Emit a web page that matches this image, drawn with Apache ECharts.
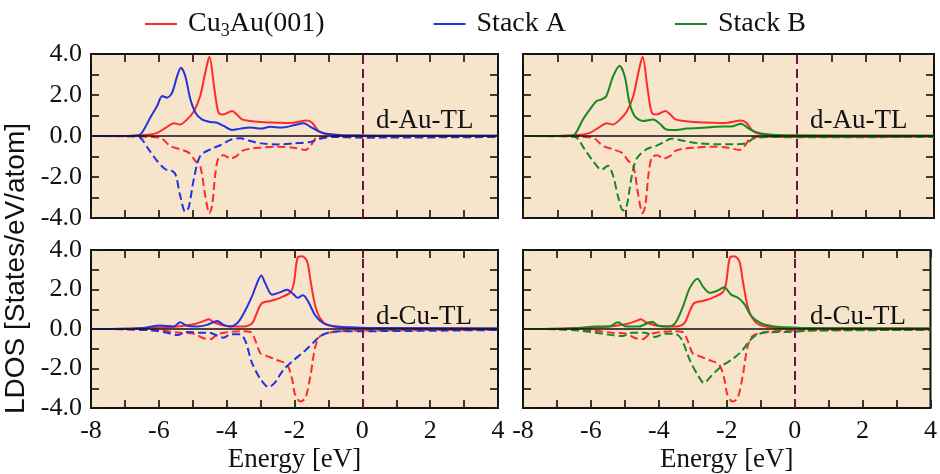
<!DOCTYPE html>
<html>
<head>
<meta charset="utf-8">
<script src="https://cdn.jsdelivr.net/npm/echarts@6/dist/echarts.min.js"></script>
<style>html,body{margin:0;padding:0;background:#fff;}#chart{width:940px;height:474px;}</style>
</head>
<body>
<div id="chart"></div>
<script>
// ---- data: [energy (eV), LDOS] ----
const seriesNames = ['Cu3Au(001)', 'Stack A', 'Stack B'];
const panelLabels = ['d-Au-TL', 'd-Au-TL', 'd-Cu-TL', 'd-Cu-TL'];
const xTicks = [-8, -6, -4, -2, 0, 2, 4];
const yTicks = [-4, -2, 0, 2, 4];

const cu3auAuUp = [[-8,0],[-7,0],[-6.6,0.03],[-6.3,0.06],[-6.05,0.15],[-5.8,0.4],[-5.55,0.62],[-5.38,0.56],[-5.2,0.75],[-4.97,1.2],[-4.78,1.95],[-4.63,3.1],[-4.51,3.86],[-4.36,2.27],[-4.24,1.14],[-4.1,1.05],[-3.84,1.22],[-3.7,1.05],[-3.55,0.81],[-3.3,0.73],[-3.0,0.68],[-2.75,0.66],[-2.5,0.65],[-2.2,0.63],[-2.02,0.65],[-1.63,0.76],[-1.48,0.65],[-1.29,0.24],[-1.04,0.08],[-0.55,0.03],[0,0.02],[1,0.01],[4,0.01]];
const cu3auAuDn = [[-8,0],[-6.6,-0.02],[-6.3,-0.04],[-5.96,-0.08],[-5.66,-0.49],[-5.37,-0.65],[-5.12,-0.81],[-4.92,-1.22],[-4.78,-1.46],[-4.63,-2.92],[-4.51,-3.77],[-4.43,-3.4],[-4.33,-1.79],[-4.24,-1.06],[-4.09,-0.94],[-3.89,-1.1],[-3.7,-0.97],[-3.55,-0.73],[-3.3,-0.62],[-3.0,-0.57],[-2.5,-0.52],[-2.02,-0.57],[-1.68,-0.68],[-1.53,-0.49],[-1.34,-0.08],[-1.0,-0.04],[0,-0.05],[4,-0.04]];
const stackAAuUp = [[-8,0],[-7,0],[-6.64,0.02],[-6.5,0.16],[-6.25,0.9],[-6.05,1.46],[-5.9,1.95],[-5.76,1.87],[-5.61,2.11],[-5.46,2.92],[-5.35,3.33],[-5.22,2.92],[-5.07,1.79],[-4.92,1.14],[-4.73,0.81],[-4.48,0.68],[-4.28,0.65],[-4.09,0.49],[-3.84,0.29],[-3.6,0.36],[-3.3,0.41],[-3.0,0.36],[-2.71,0.45],[-2.4,0.41],[-2.02,0.52],[-1.73,0.62],[-1.53,0.45],[-1.24,0.19],[-0.94,0.08],[-0.55,0.03],[0,0.02],[4,0.01]];
const stackAAuDn = [[-8,0],[-6.8,-0.01],[-6.55,-0.08],[-6.3,-0.65],[-6.05,-1.22],[-5.81,-1.62],[-5.66,-1.66],[-5.51,-1.87],[-5.37,-2.92],[-5.22,-3.7],[-5.12,-3.49],[-4.97,-2.11],[-4.78,-0.97],[-4.48,-0.65],[-4.19,-0.45],[-3.89,-0.19],[-3.6,-0.11],[-3.3,-0.24],[-3.0,-0.36],[-2.5,-0.41],[-2.02,-0.36],[-1.53,-0.29],[-1.24,-0.13],[-0.84,-0.05],[0,-0.08],[4,-0.05]];
const stackBAuUp = [[-8,0],[-6.7,0.01],[-6.49,0.08],[-6.25,0.81],[-6.05,1.29],[-5.86,1.7],[-5.71,1.78],[-5.57,1.94],[-5.37,2.91],[-5.18,3.43],[-5.03,2.91],[-4.89,1.62],[-4.74,0.97],[-4.5,0.73],[-4.2,0.81],[-4.01,0.61],[-3.82,0.32],[-3.52,0.29],[-3.23,0.36],[-2.84,0.39],[-2.36,0.45],[-1.87,0.48],[-1.63,0.6],[-1.44,0.4],[-1.19,0.19],[-0.9,0.08],[-0.4,0.03],[0,0.02],[4,0.01]];
const stackBAuDn = [[-8,0],[-6.7,-0.01],[-6.44,-0.08],[-6.2,-0.65],[-5.96,-1.21],[-5.71,-1.65],[-5.52,-1.45],[-5.37,-1.94],[-5.23,-2.91],[-5.08,-3.63],[-4.98,-3.47],[-4.84,-2.1],[-4.69,-1.13],[-4.4,-0.65],[-4.11,-0.48],[-3.91,-0.32],[-3.67,-0.13],[-3.42,-0.19],[-3.13,-0.29],[-2.84,-0.36],[-2.36,-0.4],[-1.87,-0.4],[-1.48,-0.36],[-1.28,-0.13],[-0.9,-0.05],[0,-0.06],[4,-0.05]];

const cu3auCuUp = [[-8,0],[-7,0.01],[-6.45,0.05],[-5.96,0.08],[-5.46,0.13],[-4.97,0.24],[-4.68,0.4],[-4.53,0.5],[-4.38,0.34],[-4.09,0.18],[-3.79,0.13],[-3.5,0.13],[-3.25,0.29],[-3.1,0.86],[-2.96,1.31],[-2.71,1.42],[-2.42,1.58],[-2.12,1.86],[-2.02,2.31],[-1.91,3.6],[-1.78,3.68],[-1.63,3.44],[-1.53,2.47],[-1.39,1.18],[-1.24,0.53],[-1.04,0.21],[-0.65,0.08],[0,0.05],[4,0.02]];
const cu3auCuDn = [[-8,0],[-7,-0.01],[-6.45,-0.05],[-5.96,-0.08],[-5.37,-0.19],[-4.97,-0.24],[-4.68,-0.47],[-4.48,-0.52],[-4.28,-0.27],[-3.99,-0.16],[-3.6,-0.11],[-3.3,-0.15],[-3.15,-0.6],[-3.0,-1.24],[-2.81,-1.37],[-2.52,-1.57],[-2.22,-1.81],[-2.07,-2.54],[-1.98,-3.34],[-1.83,-3.67],[-1.68,-3.5],[-1.53,-2.37],[-1.39,-0.92],[-1.24,-0.36],[-0.84,-0.15],[0,-0.08],[4,-0.04]];
const stackACuUp = [[-8,0],[-7,0.01],[-6.45,0.05],[-5.96,0.18],[-5.56,0.13],[-5.37,0.34],[-5.17,0.16],[-4.87,0.13],[-4.58,0.21],[-4.28,0.4],[-4.09,0.21],[-3.89,0.13],[-3.69,0.29],[-3.5,0.78],[-3.25,1.66],[-3.1,2.34],[-2.98,2.71],[-2.86,2.31],[-2.66,1.74],[-2.47,1.83],[-2.22,1.99],[-2.02,1.74],[-1.91,1.58],[-1.75,1.71],[-1.58,1.34],[-1.39,0.69],[-1.14,0.29],[-0.75,0.13],[-0.2,0.08],[0.5,0.05],[4,0.02]];
const stackACuDn = [[-8,0],[-7,-0.01],[-6.15,-0.08],[-5.76,-0.19],[-5.46,-0.31],[-5.17,-0.15],[-4.78,-0.19],[-4.53,-0.19],[-4.09,-0.44],[-3.89,-0.27],[-3.6,-0.27],[-3.45,-0.6],[-3.25,-1.73],[-3.0,-2.54],[-2.76,-2.94],[-2.57,-2.7],[-2.32,-2.05],[-2.02,-1.57],[-1.73,-1.16],[-1.44,-0.68],[-1.24,-0.36],[-0.94,-0.16],[-0.55,-0.11],[0,-0.11],[4,-0.05]];
const stackBCuUp = [[-8,0],[-7,0.01],[-6.35,0.05],[-5.86,0.13],[-5.47,0.13],[-5.2,0.34],[-4.98,0.13],[-4.59,0.13],[-4.2,0.37],[-4.01,0.16],[-3.72,0.13],[-3.52,0.29],[-3.28,1.18],[-3.09,2.07],[-2.86,2.55],[-2.7,2.15],[-2.5,1.83],[-2.26,1.95],[-2.08,2.12],[-1.87,1.74],[-1.67,1.58],[-1.48,1.26],[-1.28,0.66],[-0.99,0.29],[-0.6,0.13],[-0.1,0.08],[0.5,0.05],[4,0.02]];
const stackBCuDn = [[-8,0],[-7,-0.01],[-6.35,-0.08],[-5.86,-0.19],[-5.37,-0.31],[-5.08,-0.36],[-4.79,-0.19],[-4.4,-0.19],[-4.11,-0.4],[-3.82,-0.24],[-3.52,-0.24],[-3.33,-0.52],[-3.09,-1.57],[-2.84,-2.37],[-2.67,-2.73],[-2.45,-2.37],[-2.16,-1.89],[-1.87,-1.57],[-1.58,-1.16],[-1.33,-0.6],[-1.09,-0.27],[-0.7,-0.16],[-0.1,-0.15],[0.5,-0.08],[4,-0.05]];

// ---- styling / layout ----
const RED = '#ff2a2a', BLUE = '#2233dd', GREEN = '#17891f';
const BG = '#f7e5cb';
const SERIF = 'Liberation Serif';
const SERIF_FONT = '"Liberation Serif", "Times New Roman", serif';
const grids = [
  {left: 91, top: 54, width: 407, height: 164},
  {left: 523, top: 54, width: 411, height: 164},
  {left: 91, top: 250, width: 407, height: 165},
  {left: 523, top: 250, width: 411, height: 165}
];
const panels = [
  [{name: seriesNames[0], color: RED, up: cu3auAuUp, dn: cu3auAuDn}, {name: seriesNames[1], color: BLUE, up: stackAAuUp, dn: stackAAuDn}],
  [{name: seriesNames[0], color: RED, up: cu3auAuUp, dn: cu3auAuDn}, {name: seriesNames[2], color: GREEN, up: stackBAuUp, dn: stackBAuDn}],
  [{name: seriesNames[0], color: RED, up: cu3auCuUp, dn: cu3auCuDn}, {name: seriesNames[1], color: BLUE, up: stackACuUp, dn: stackACuDn}],
  [{name: seriesNames[0], color: RED, up: cu3auCuUp, dn: cu3auCuDn}, {name: seriesNames[2], color: GREEN, up: stackBCuUp, dn: stackBCuDn}]
];

const tick = {show: true, inside: true, length: 8, lineStyle: {color: '#1a1a1a', width: 1.7}};
const xAxes = [], yAxes = [], series = [], graphics = [];
grids.forEach((g, i) => {
  const bottomRow = i >= 2, leftCol = i % 2 === 0;
  xAxes.push({
    type: 'value', gridIndex: i, min: -8, max: 4, interval: 1, position: 'bottom',
    axisLine: {show: false, onZero: false}, axisTick: tick, splitLine: {show: false},
    axisLabel: {show: bottomRow, margin: 10, fontFamily: SERIF, fontSize: 26, color: '#111',
      formatter: v => xTicks.includes(v) ? String(v) : ''},
    name: bottomRow ? 'Energy [eV]' : '', nameLocation: 'middle', nameGap: 38,
    nameTextStyle: {color: '#111', fontFamily: SERIF, fontSize: 27}
  });
  xAxes.push({
    type: 'value', gridIndex: i, min: -8, max: 4, interval: 1, position: 'top',
    axisLine: {show: false, onZero: false}, axisTick: tick, splitLine: {show: false}, axisLabel: {show: false}
  });
  yAxes.push({
    type: 'value', gridIndex: i, min: -4, max: 4, interval: 1, position: 'left',
    axisLine: {show: false, onZero: false}, axisTick: tick, splitLine: {show: false},
    axisLabel: {show: leftCol, margin: 9, fontFamily: SERIF, fontSize: 26, color: '#111',
      formatter: v => yTicks.includes(v) ? v.toFixed(1) : ''}
  });
  yAxes.push({
    type: 'value', gridIndex: i, min: -4, max: 4, interval: 1, position: 'right',
    axisLine: {show: false, onZero: false}, axisTick: tick, splitLine: {show: false}, axisLabel: {show: false}
  });
  panels[i].forEach((p, k) => {
    ['up', 'dn'].forEach(dir => {
      const s = {
        type: 'line', name: p.name, xAxisIndex: 2 * i, yAxisIndex: 2 * i,
        data: p[dir], showSymbol: false, symbol: 'none', smooth: 0.3,
        z: k === 0 ? 3 : 4, color: p.color,
        lineStyle: {color: p.color, width: 2, type: dir === 'up' ? 'solid' : [8, 4]},
        animation: false
      };
      if (k === 0 && dir === 'up') {
        s.markLine = {
          silent: true, symbol: 'none', label: {show: false}, animation: false,
          data: [
            {yAxis: 0, lineStyle: {color: '#111', width: 1.6, type: 'solid'}},
            {xAxis: 0, lineStyle: {color: '#6e1446', width: 2, type: [9, 5]}}
          ]
        };
      }
      series.push(s);
    });
  });
  graphics.push({
    type: 'text', left: leftCol ? 376 : 810, top: (i < 2 ? 122 : 318) - 15,
    style: {text: panelLabels[i], font: '27px ' + SERIF_FONT, fill: '#111'}
  });
});

graphics.push({
  type: 'text', rotation: Math.PI / 2, x: 2, y: 414,
  style: {text: 'LDOS [States/eV/atom]', font: '28px "Liberation Sans", Arial, sans-serif', fill: '#111', textVerticalAlign: 'top'}
});

const chart = echarts.init(document.getElementById('chart'), null, {renderer: 'canvas'});
chart.setOption({
  animation: false,
  backgroundColor: '#ffffff',
  textStyle: {fontFamily: SERIF},
  grid: grids.map(g => Object.assign({show: true, backgroundColor: BG, borderColor: '#111', borderWidth: 2, containLabel: false}, g)),
  xAxis: xAxes,
  yAxis: yAxes,
  legend: {
    data: seriesNames, left: 140, top: 5, itemGap: 109, itemWidth: 32, itemHeight: 2,
    icon: 'rect',
    textStyle: {color: '#111', fontFamily: SERIF, fontSize: 28, padding: [0, 0, 0, 6],
      rich: {
        n: {fontFamily: SERIF, fontSize: 28, color: '#111'},
        s: {fontFamily: SERIF, fontSize: 18, color: '#111', verticalAlign: 'bottom', padding: [14, 0, 0, 0]}
      }},
    formatter: name => name === 'Cu3Au(001)' ? '{n|Cu}{s|3}{n|Au(001)}' : '{n|' + name + '}'
  },
  series: series,
  graphic: graphics
});
</script>
</body>
</html>
